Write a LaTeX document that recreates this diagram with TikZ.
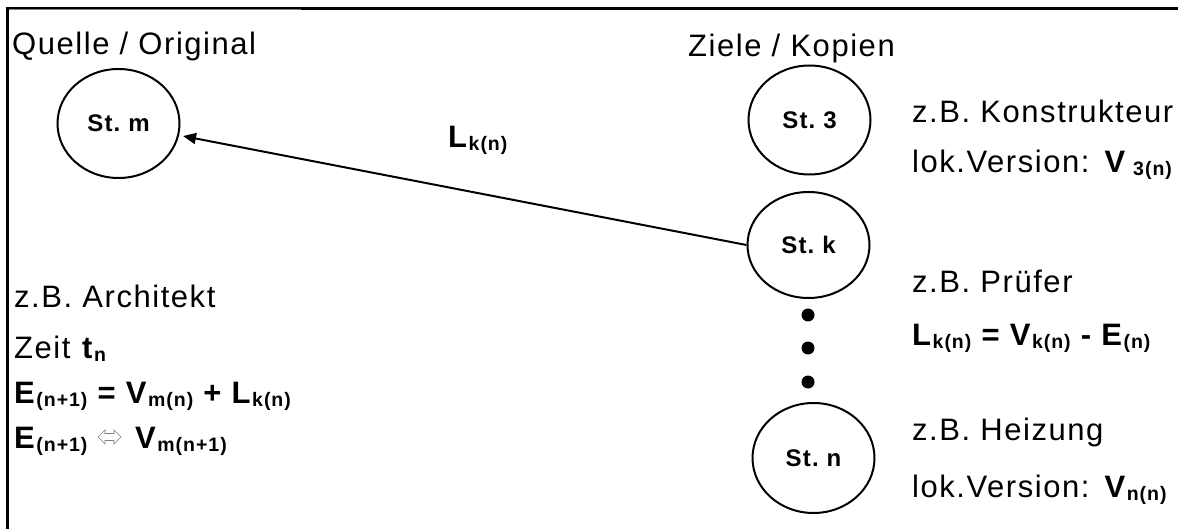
\documentclass[tikz,border=0pt]{standalone}
\usepackage{fontspec}
\setmainfont{Liberation Sans}[LetterSpace=5]
\usetikzlibrary{shapes.geometric,arrows.meta}
\newcommand\subx[1]{\raisebox{-3pt}{\fontsize{19.5}{19.5}\selectfont\bfseries #1}}
\begin{document}
\begin{tikzpicture}[x=1pt,y=-1pt,
  lbl/.style={anchor=base west,inner sep=0pt,font=\fontsize{31}{31}\selectfont},
  stn/.style={ellipse,draw,line width=2pt,minimum width=122pt,minimum height=109pt,inner sep=0pt,font=\fontsize{24}{24}\selectfont\bfseries},
  dotn/.style={circle,fill,inner sep=0pt,minimum size=13pt},
  conn/.style={line width=2pt,-{Triangle[length=13pt,width=11pt]},shorten >=4pt},
  frameline/.style={line width=2.5pt},
  symb/.style={draw=gray,line width=0.7pt,line join=miter}]
\useasboundingbox (0,0) rectangle (1178,529);
% frame
\draw[line width=1.4pt] (7,8.2) -- (1178,8.2);
\draw[line width=1.4pt] (301,9.6) -- (1178,9.6);
\draw[gray,line width=1.2pt] (7,9.8) -- (301,9.8);
\draw[frameline] (7.5,7.5) -- (7.5,529);
% stations
\node[stn] (m) at (118.5,123.5) {St.\ m};
\node[stn] (s3) at (809.5,120) {St.\ 3};
\node[stn,minimum height=106pt] (k) at (808.5,245) {St.\ k};
\node[stn,minimum height=110pt] (n) at (813.5,458) {St.\ n};
\node[dotn] (d1) at (808,315) {};
\node[dotn] (d2) at (808,348) {};
\node[dotn] (d3) at (808,382) {};
% connector
\draw[conn] (k.west) -- (m.-11);
\node[lbl] (lk) at (448,148) {\textbf{L}\subx{k(n)}};
% headings
\node[lbl] (q) at (12,55) {Quelle / Original};
\node[lbl] (z) at (688,57) {Ziele / Kopien};
% right column
\node[lbl] (c1) at (912,123) {z.B. Konstrukteur};
\node[lbl] (c2) at (912,173) {lok.Version: \textbf{V}\subx{\ 3(n)}};
\node[lbl] (p1) at (912,293) {z.B. Prüfer};
\node[lbl] (p2) at (912,345) {\textbf{L}\subx{k(n)} \textbf{= V}\subx{k(n)} \textbf{- E}\subx{(n)}};
\node[lbl] (h1) at (912,440) {z.B. Heizung};
\node[lbl] (h2) at (912,497) {lok.Version: \textbf{V}\subx{n(n)}};
% left column
\node[lbl] (a1) at (14,308) {z.B. Architekt};
\node[lbl] (a2) at (14,358) {Zeit \textbf{t}\subx{n}};
\node[lbl] (a3) at (14,403) {\textbf{E}\subx{(n+1)} \textbf{= V}\subx{m(n)} \textbf{+ L}\subx{k(n)}};
\node[lbl] (a4) at (14,448) {\textbf{E}\subx{(n+1)}};
\node[lbl] (a5) at (135,448) {\textbf{V}\subx{m(n+1)}};
\draw[symb] (98,437) -- (105,430) -- (105,433.5) -- (114,433.5) -- (114,430) -- (121,437)
  -- (114,444) -- (114,440.5) -- (105,440.5) -- (105,444) -- cycle;
\end{tikzpicture}
\end{document}
